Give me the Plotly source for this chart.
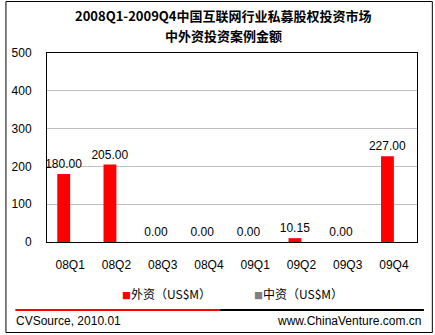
import plotly.graph_objects as go

categories = ["08Q1", "08Q2", "08Q3", "08Q4", "09Q1", "09Q2", "09Q3", "09Q4"]
foreign_vals = [180.00, 205.00, 0.00, 0.00, 0.00, 10.15, 0.00, 227.00]
domestic_vals = [0, 0, 0, 0, 0, 0, 0, 0]
series_names = ["外资（US$M）", "中资（US$M）"]
title_lines = ["2008Q1-2009Q4中国互联网行业私募股权投资市场", "中外资投资案例金额"]
y_ticks = [0, 100, 200, 300, 400, 500]

W, H = 435, 335
L, R, T, B = 43, 18, 53, 93

fig = go.Figure()
fig.add_trace(go.Bar(
    x=categories, y=foreign_vals, name=series_names[0],
    marker=dict(color="#FF0000", line=dict(width=0)),
    text=[f"{v:.2f}" for v in foreign_vals], textposition="outside",
    constraintext="none",
    textfont=dict(family="Liberation Sans, Arial", size=12, color="#000000"),
    cliponaxis=False, showlegend=False,
))
fig.add_trace(go.Bar(
    x=categories, y=domestic_vals, name=series_names[1],
    marker=dict(color="#808080", line=dict(width=0)),
    showlegend=False,
))

font = dict(family="Liberation Sans, Arial", size=12, color="#000000")
cjk = "Noto Sans CJK SC"

fig.update_layout(
    width=W, height=H,
    margin=dict(l=L, r=R, t=T, b=B, pad=0),
    paper_bgcolor="white", plot_bgcolor="white",
    barmode="group", bargap=0.444, bargroupgap=0,
    font=font,
    xaxis=dict(showline=True, linecolor="#000000", linewidth=1, mirror=True,
               showgrid=False, ticks="", tickfont=font, ticklabelstandoff=12,
               fixedrange=True),
    yaxis=dict(range=[0, 500], tickvals=y_ticks, showline=True, linecolor="#000000",
               linewidth=1, mirror=True, showgrid=True, gridcolor="#C0C0C0",
               gridwidth=1, zeroline=False, ticks="", tickfont=font,
               ticklabelstandoff=12, fixedrange=True),
)

def px(xp):
    return (xp - L) / (W - L - R)

def py(yp):
    return (H - B - yp) / (H - T - B)

annotations = [
    dict(text="<b>" + title_lines[0] + "</b>", x=px(221.5), y=py(16), xref="paper", yref="paper",
         showarrow=False, xanchor="center", yanchor="middle",
         font=dict(family=cjk, size=13, color="#000000")),
    dict(text="<b>" + title_lines[1] + "</b>", x=px(221.5), y=py(36), xref="paper", yref="paper",
         showarrow=False, xanchor="center", yanchor="middle",
         font=dict(family=cjk, size=13, color="#000000")),
    # legend
    dict(text="<span style='color:#FF0000;font-size:9px'>■</span>" + series_names[0], x=px(117),
         y=py(293), xref="paper", yref="paper",
         showarrow=False, xanchor="left", yanchor="middle",
         font=dict(family=cjk, size=12, color="#000000")),
    dict(text="<span style='color:#808080;font-size:9px'>■</span>" + series_names[1], x=px(250),
         y=py(293), xref="paper", yref="paper",
         showarrow=False, xanchor="left", yanchor="middle",
         font=dict(family=cjk, size=12, color="#000000")),
    dict(text="CVSource, 2010.01", x=px(10), y=py(321), xref="paper", yref="paper",
         showarrow=False, xanchor="left", yanchor="middle", font=font),
    dict(text="www.ChinaVenture.com.cn", x=px(423), y=py(321), xref="paper", yref="paper",
         showarrow=False, xanchor="right", yanchor="middle", font=font),
]
fig.update_layout(annotations=annotations)

shapes = [
    dict(type="rect", xref="paper", yref="paper", x0=px(1.5), x1=px(432.5), y0=py(332.5), y1=py(1.5),
         line=dict(color="#000000", width=1), fillcolor="rgba(0,0,0,0)", layer="below"),
    dict(type="line", xref="paper", yref="paper", x0=px(11), x1=px(218), y0=py(310), y1=py(310),
         line=dict(color="#FF0000", width=2)),
    dict(type="line", xref="paper", yref="paper", x0=px(218), x1=px(424), y0=py(310), y1=py(310),
         line=dict(color="#000000", width=2)),
]
fig.update_layout(shapes=shapes)

fig.write_html("out.html", config={"displayModeBar": False})
